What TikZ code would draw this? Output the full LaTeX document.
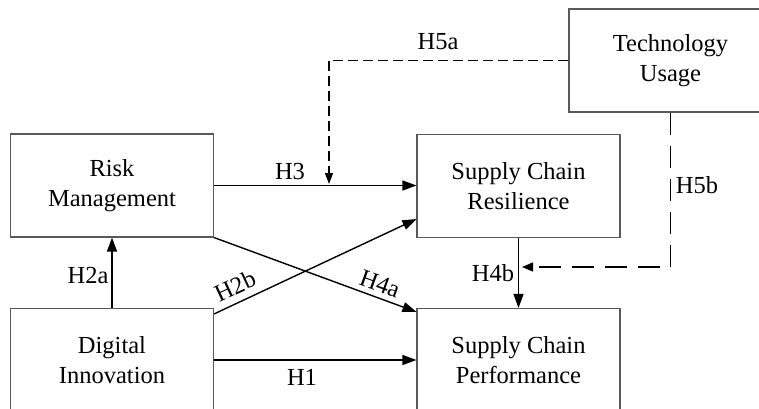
\documentclass[tikz,border=0pt]{standalone}
\usepackage{fontspec}
\setmainfont{Liberation Serif}
\usetikzlibrary{arrows.meta,calc}
\begin{document}
\begin{tikzpicture}[x=1pt,y=-1pt,
  box/.style={draw=black!65,line width=1.1pt,rectangle,minimum width=203pt,minimum height=103pt,
    align=center,inner sep=0pt,font=\fontsize{24.5}{29.5}\selectfont},
  lbl/.style={font=\fontsize{24.5}{29.5}\selectfont,inner sep=0pt},
  arr/.style={line width=1.4pt,-{Triangle[length=14pt,width=10pt]}},
  darrA/.style={line width=1.4pt,dash pattern=on 10pt off 5pt,-{Triangle[length=11pt,width=8pt]}},
  darrB/.style={line width=1.4pt,dash pattern=on 22pt off 11pt,-{Triangle[length=11pt,width=9pt]}}]
\useasboundingbox (0,0) rectangle (759,408);
\node[box] (rm) at (112,185.5) {Risk\\Management};
\node[box] (di) at (112,360) {Digital\\Innovation};
\node[box] (scr) at (518.5,186) {Supply Chain\\Resilience};
\node[box] (scp) at (518.5,360) {Supply Chain\\Performance};
\node[box] (tu) at (670.5,60.5) {Technology\\Usage};
% solid arrows
\draw[arr] (rm.east) -- (rm.east -| scr.west);
\draw[arr] (di.east) -- (di.east -| scp.west);
\draw[arr] (di.north) -- (rm.south);
\draw[arr] ($(di.north east)+(0,6)$) -- ($(scr.south west)+(0,-19)$);
\draw[arr] (rm.south east) -- ($(scp.north west)+(0,4)$);
\draw[arr] (scr.south) -- (scp.north);
% dashed moderation arrows
\coordinate (h5a) at (329,184);
\coordinate (h5b) at (522,267);
\draw[darrA] (tu.west) -| (h5a);
\draw[darrB] (tu.south) |- (h5b);
% labels
\node[lbl] at (290,172) {H3};
\node[lbl] at (302,377) {H1};
\node[lbl] at (88,275) {H2a};
\node[lbl,rotate=25] at (235,286) {H2b};
\node[lbl,rotate=-20] at (380,284) {H4a};
\node[lbl] at (493,273) {H4b};
\node[lbl] at (438,42) {H5a};
\node[lbl] at (697,185) {H5b};
\end{tikzpicture}
\end{document}
